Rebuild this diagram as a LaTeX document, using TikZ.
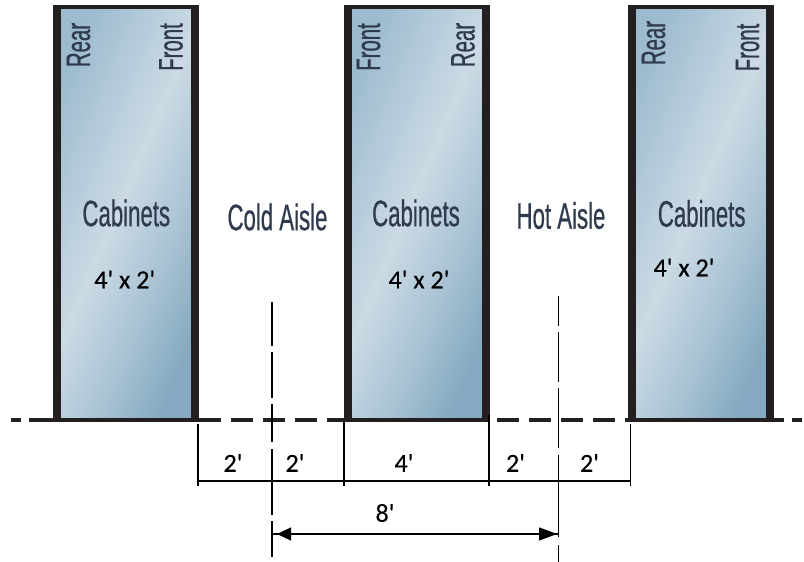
\documentclass[tikz,border=0pt]{standalone}
\usepackage{fontspec}
\setmainfont{Liberation Sans}
\newfontfamily\narrowfont[FakeStretch=0.6,FakeBold=0.5]{Liberation Sans}
\newfontfamily\dimfont[FakeBold=0.3]{Carlito}
\usetikzlibrary{arrows.meta}
\definecolor{cabedge}{HTML}{231F20}
\definecolor{cabtext}{HTML}{2F3A4C}
\definecolor{cabA}{HTML}{9DBBCF}
\definecolor{cabB}{HTML}{CBDAE4}
\definecolor{cabC}{HTML}{A9C3D4}
\definecolor{cabD}{HTML}{85A9C0}
\pgfdeclarehorizontalshading{cabgrad}{100bp}{%
 color(0bp)=(cabA);color(25bp)=(cabA);color(48bp)=(cabB);color(62bp)=(cabC);color(75bp)=(cabD);color(100bp)=(cabD)}
\tikzset{
 cabinet/.style={draw=cabedge,line width=3.5pt,minimum width=142pt,minimum height=413pt,inner sep=0pt,outer sep=0pt,shading=cabgrad,shading angle=-23},
 cabside/.style={draw=cabedge,line width=8pt},
 baseline dash/.style={draw=cabedge,line width=3.2pt},
 dimline/.style={draw=black,line width=1.3pt},
 axisline/.style={draw=black,line width=1.5pt},
 toplabel/.style={font=\narrowfont\fontsize{34}{34}\selectfont,text=cabtext,rotate=90,inner sep=0pt},
 namelabel/.style={font=\narrowfont\fontsize{37}{37}\selectfont,text=cabtext,inner sep=0pt},
 dimlabel/.style={font=\dimfont\fontsize{26}{26}\selectfont,text=black,inner sep=0pt},
 dimarrow/.style={dimline,{Triangle[length=14pt,width=13pt]}-{Triangle[length=18pt,width=13pt]},shorten <=5pt,shorten >=1.5pt},
}
\begin{document}
\begin{tikzpicture}[x=1pt,y=-1pt]
\useasboundingbox (0,0) rectangle (804,562);
% cabinets
\node[cabinet] (c1) at (126,213.5) {};
\node[cabinet] (c2) at (416.5,213.5) {};
\node[cabinet] (c3) at (701,213.5) {};
\foreach \c in {c1,c2,c3}{
 \draw[cabside] ([xshift=2pt,yshift=2pt]\c.north west) -- ([xshift=2pt,yshift=-1.5pt]\c.south west);
 \draw[cabside] ([xshift=-2pt,yshift=2pt]\c.north east) -- ([xshift=-2pt,yshift=-1.5pt]\c.south east);
}
% labels
\node[toplabel] (r1) at (78.5,45) {Rear};
\node[toplabel] (f1) at (171,47) {Front};
\node[toplabel] (f2) at (368.5,47) {Front};
\node[toplabel] (r2) at (463,45) {Rear};
\node[toplabel] (r3) at (653.5,43) {Rear};
\node[toplabel] (f3) at (747.5,47.5) {Front};
\node[namelabel] (n1) at (126.3,213) {Cabinets};
\node[namelabel] (n2) at (416,213) {Cabinets};
\node[namelabel] (n3) at (701.7,213.5) {Cabinets};
\node[namelabel] (ca) at (277.5,217) {Cold Aisle};
\node[namelabel] (ha) at (561,215.5) {Hot Aisle};
\node[dimlabel] (s1) at (124.7,279.5) {4' x 2'};
\node[dimlabel] (s2) at (419,279.5) {4' x 2'};
\node[dimlabel] (s3) at (684,267.5) {4' x 2'};
% baseline
\coordinate (bl0) at (11,420); \coordinate (bl1) at (53,420);
\coordinate (bl2) at (199,420); \coordinate (bl3) at (344,420);
\coordinate (bl4) at (497,420); \coordinate (bl5) at (629,420);
\coordinate (bl6) at (774,420); \coordinate (bl7) at (804,420);
\draw[baseline dash,dash pattern=on 24pt off 8pt on 10pt off 8pt] (bl1) -- (bl0);
\draw[baseline dash,dash pattern=on 22pt off 10pt] (bl2) -- (bl3);
\draw[baseline dash,dash pattern=on 22pt off 10pt] (bl4) -- (bl5);
\draw[baseline dash,dash pattern=on 10pt off 8pt] (bl6) -- (bl7);
% dimension extension lines
\coordinate (t1a) at (198,424); \coordinate (t1b) at (198,486);
\coordinate (t2a) at (344,421); \coordinate (t2b) at (344,486);
\coordinate (t3a) at (489,415); \coordinate (t3b) at (489,486);
\coordinate (t4a) at (630.5,424); \coordinate (t4b) at (630.5,486);
\draw[dimline] (t1a) -- (t1b);
\draw[dimline] (t2a) -- (t2b);
\draw[dimline] (t3a) -- (t3b);
\draw[dimline] (t4a) -- (t4b);
\coordinate (h1) at (198,481); \coordinate (h2) at (630.5,481);
\draw[dimline] (h1) -- (h2);
% axes
\coordinate (a1a) at (272,302); \coordinate (a1b) at (272,346);
\coordinate (a1c) at (272,352); \coordinate (a1d) at (272,398);
\coordinate (a1e) at (272,404); \coordinate (a1f) at (272,442);
\coordinate (a1g) at (272,449); \coordinate (a1h) at (272,515);
\coordinate (a1i) at (272,521); \coordinate (a1j) at (272,557);
\draw[axisline] (a1a) -- (a1b); \draw[axisline] (a1c) -- (a1d);
\draw[axisline] (a1e) -- (a1f); \draw[axisline] (a1g) -- (a1h);
\draw[axisline] (a1i) -- (a1j);
\coordinate (a2a) at (558.5,296); \coordinate (a2b) at (558.5,326);
\coordinate (a2c) at (558.5,332); \coordinate (a2d) at (558.5,382);
\coordinate (a2e) at (558.5,388); \coordinate (a2f) at (558.5,448);
\coordinate (a2g) at (558.5,455); \coordinate (a2h) at (558.5,537);
\coordinate (a2i) at (558.5,545); \coordinate (a2j) at (558.5,562);
\draw[axisline] (a2a) -- (a2b); \draw[axisline] (a2c) -- (a2d);
\draw[axisline] (a2e) -- (a2f); \draw[axisline] (a2g) -- (a2h);
\draw[axisline] (a2i) -- (a2j);
% dimension arrow
\coordinate (ar1) at (272,534); \coordinate (ar2) at (558.5,534);
\draw[dimline] (ar1) -- (ar2);
\draw[dimarrow] (ar1) -- (ar2);
% dim text
\node[dimlabel] (d1) at (233,463) {2'};
\node[dimlabel] (d2) at (295,463) {2'};
\node[dimlabel] (d3) at (404,463) {4'};
\node[dimlabel] (d4) at (515.5,463) {2'};
\node[dimlabel] (d5) at (589.5,463) {2'};
\node[dimlabel] (d6) at (385,513) {8'};
\end{tikzpicture}
\end{document}
